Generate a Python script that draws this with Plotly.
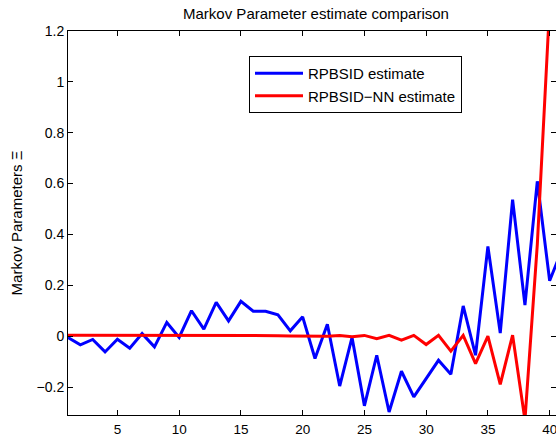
import plotly.graph_objects as go

# x indices
x_blue = list(range(1, 42))
x_red = list(range(1, 41))

rpbsid = [-0.005, -0.034, -0.013, -0.062, -0.012, -0.047, 0.010, -0.042, 0.054, -0.005,
          0.100, 0.028, 0.133, 0.060, 0.137, 0.098, 0.098, 0.084, 0.021, 0.076,
          -0.088, 0.047, -0.196, -0.005, -0.274, -0.075, -0.298, -0.138, -0.239, -0.166,
          -0.095, -0.150, 0.119, -0.075, 0.353, 0.012, 0.537, 0.122, 0.609, 0.218,
          0.340]

rpbsid_nn = [0.004, 0.004, 0.004, 0.004, 0.004, 0.004, 0.004, 0.003, 0.003, 0.003,
             0.003, 0.003, 0.002, 0.003, 0.003, 0.003, 0.002, 0.002, 0.001, 0.001,
             0.001, 0.000, 0.003, -0.002, 0.003, -0.010, 0.003, -0.016, 0.003, -0.033,
             0.003, -0.059, 0.003, -0.108, 0.000, -0.190, 0.004, -0.330, 0.360, 1.300]

x_tickvals = [5, 10, 15, 20, 25, 30, 35, 40]
x_ticktext = ["5", "10", "15", "20", "25", "30", "35", "40"]
y_tickvals = [-0.2, 0, 0.2, 0.4, 0.6, 0.8, 1.0, 1.2]
y_ticktext = ["\u22120.2", "0", "0.2", "0.4", "0.6", "0.8", "1", "1.2"]

FONT = "Liberation Sans, Arial, Helvetica, sans-serif"

fig = go.Figure()
fig.add_trace(go.Scatter(x=x_blue, y=rpbsid, mode="lines", name="RPBSID estimate",
                         line=dict(color="#0000ff", width=3)))
fig.add_trace(go.Scatter(x=x_red, y=rpbsid_nn, mode="lines", name="RPBSID\u2212NN estimate",
                         line=dict(color="#ff0000", width=3)))

L, T, B = 68, 31, 22
W, H = 556, 437
pw = W - L
xmax = 1 + pw / 12.35

fig.update_layout(
    width=W, height=H,
    margin=dict(l=L, r=0, t=T, b=B, pad=0, autoexpand=False),
    paper_bgcolor="white", plot_bgcolor="white",
    font=dict(family=FONT, size=13, color="black"),
    title=dict(text="Markov Parameter estimate comparison",
               x=(316 - L) / pw, xref="paper", xanchor="center",
               y=1 - 14 / H, yanchor="middle",
               font=dict(family=FONT, size=15, color="black")),
    showlegend=True,
    legend=dict(x=(249 - L) / pw, y=1 - (56 - T) / (H - T - B), xanchor="left", yanchor="top",
                bgcolor="white", bordercolor="black", borderwidth=1,
                font=dict(family=FONT, size=15, color="black"),
                itemwidth=48, tracegroupgap=0),
    xaxis=dict(range=[1, xmax], tickmode="array", tickvals=x_tickvals, ticktext=x_ticktext,
               ticks="inside", ticklen=5, tickcolor="black", showline=True, linecolor="black",
               linewidth=1, mirror="ticks", showgrid=False, zeroline=False, automargin=False,
               ticklabeloverflow="allow", ticklabelstandoff=2,
               tickfont=dict(family=FONT, size=13.5, color="black")),
    yaxis=dict(range=[-0.31, 1.2], tickmode="array", tickvals=y_tickvals, ticktext=y_ticktext,
               ticks="inside", ticklen=5, tickcolor="black", showline=True, linecolor="black",
               linewidth=1, mirror="ticks", showgrid=False, zeroline=False, automargin=False,
               tickfont=dict(family=FONT, size=14, color="black"),
               title=dict(text="Markov Parameters \u039e", standoff=10,
                          font=dict(family=FONT, size=15, color="black"))),
)

fig.write_html("out.html", config={"displayModeBar": False},
               post_script="document.body.style.margin='0px';document.body.style.overflow='hidden';")
